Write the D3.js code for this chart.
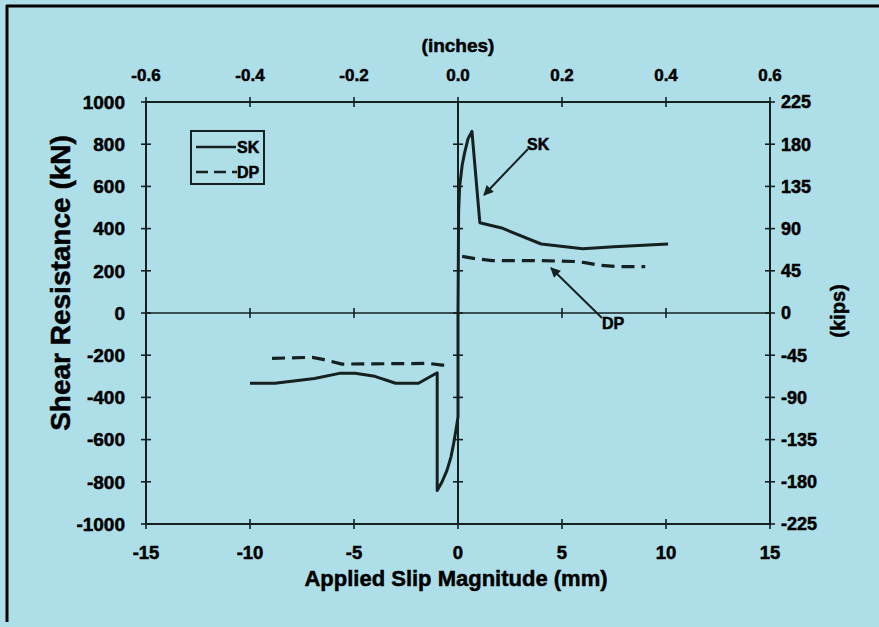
<!DOCTYPE html>
<html><head><meta charset="utf-8">
<script src="https://cdn.jsdelivr.net/npm/d3@7/dist/d3.min.js"></script>
<style>html,body{margin:0;padding:0;background:#aedfe9;}svg{display:block;}</style>
</head><body>
<script>
// ---- data ----
const xTicksMm = [-15,-10,-5,0,5,10,15];
const xTicksIn = [-0.6,-0.4,-0.2,0.0,0.2,0.4,0.6];
const yTicksKn = [-1000,-800,-600,-400,-200,0,200,400,600,800,1000];
const yTicksKips = [-225,-180,-135,-90,-45,0,45,90,135,180,225];
const skX = [-10.0,-8.8,-6.9,-5.7,-4.95,-4.0,-3.0,-1.9,-1.0,-1.0,-0.77,-0.53,-0.34,-0.21,-0.1,0.0,0.0,0.03,0.08,0.2,0.32,0.48,0.67,1.05,2.1,4.0,6.0,7.5,10.1];
const skY = [-333,-333,-310,-286,-286,-300,-333,-333,-283,-841,-801,-746,-683,-619,-556,-493,0,480,600,700,760,825,861,428,403,327,304,314,327];
const dpPosX = [0.2,0.82,1.63,4.0,5.6,6.1,6.8,7.7,9.0];
const dpPosY = [268,258,248,248,244,239,226,220,220];
const dpNegX = [-8.94,-7.0,-6.5,-5.58,-1.41,-0.77,-0.5];
const dpNegY = [-215,-210,-220,-242,-239,-247,-247];

const W=879,H=627;
const svg=d3.select("body").append("svg").attr("width",W).attr("height",H);
const ink="#15201f";
svg.append("rect").attr("width",W).attr("height",H).attr("fill","#aedfe9");
// scan border
svg.append("line").attr("x1",7).attr("x2",7).attr("y1",5).attr("y2",622).attr("stroke","#000").attr("stroke-width",3);
svg.append("line").attr("x1",6).attr("x2",W).attr("y1",6).attr("y2",6).attr("stroke","#000").attr("stroke-width",3);

const L=146,R=770,T=102,B=524;
const x=d3.scaleLinear().domain([-15,15]).range([L,R]);
const xi=d3.scaleLinear().domain([-0.6,0.6]).range([L,R]);
const y=d3.scaleLinear().domain([-1000,1000]).range([B,T]);
const yk=d3.scaleLinear().domain([-225,225]).range([B,T]);

const g=svg.append("g");
const lw=2;
// frame
g.append("rect").attr("x",L).attr("y",T).attr("width",R-L).attr("height",B-T).attr("fill","none").attr("stroke",ink).attr("stroke-width",lw);
// zero lines
g.append("line").attr("x1",x(0)).attr("x2",x(0)).attr("y1",T).attr("y2",B).attr("stroke",ink).attr("stroke-width",lw);
g.append("line").attr("x1",L).attr("x2",R).attr("y1",y(0)).attr("y2",y(0)).attr("stroke",ink).attr("stroke-width",1.6);

const tk=5;
function hticks(vals,sc,xx){g.selectAll(null).data(vals).enter().append("line")
  .attr("x1",xx-tk).attr("x2",xx+tk).attr("y1",d=>sc(d)).attr("y2",d=>sc(d)).attr("stroke",ink).attr("stroke-width",1.6);}
function vticks(vals,sc,yy){g.selectAll(null).data(vals).enter().append("line")
  .attr("y1",yy-tk).attr("y2",yy+tk).attr("x1",d=>sc(d)).attr("x2",d=>sc(d)).attr("stroke",ink).attr("stroke-width",1.6);}
hticks(yTicksKn,y,L); hticks(yTicksKips,yk,R); hticks(yTicksKn,y,x(0));
vticks(xTicksMm,x,B); vticks(xTicksIn,xi,T); vticks(xTicksMm,x,y(0));

const font="'Liberation Sans', Arial, sans-serif";
const tl=svg.append("g").attr("font-family",font).attr("font-weight","bold").attr("fill","#000")
  .attr("stroke","#000").attr("stroke-width",0.5);
tl.selectAll(null).data(yTicksKn).enter().append("text").attr("x",125).attr("y",d=>y(d)).attr("dy","0.36em")
  .attr("text-anchor","end").attr("font-size",19).text(d=>d);
tl.selectAll(null).data(yTicksKips).enter().append("text").attr("x",781).attr("y",d=>yk(d)).attr("dy","0.36em")
  .attr("text-anchor","start").attr("font-size",18).text(d=>d);
tl.selectAll(null).data(xTicksMm).enter().append("text").attr("x",d=>x(d)).attr("y",559)
  .attr("text-anchor","middle").attr("font-size",18.5).text(d=>d);
tl.selectAll(null).data(xTicksIn).enter().append("text").attr("x",d=>xi(d)).attr("y",81)
  .attr("text-anchor","middle").attr("font-size",17).text(d=>d.toFixed(1));
tl.append("text").attr("x",456).attr("y",586).attr("text-anchor","middle").attr("font-size",22).text("Applied Slip Magnitude  (mm)");
tl.append("text").attr("x",458).attr("y",52).attr("text-anchor","middle").attr("font-size",19).text("(inches)");
tl.append("text").attr("transform","translate(70,283) rotate(-90)").attr("text-anchor","middle").attr("font-size",28).text("Shear Resistance  (kN)");
tl.append("text").attr("transform","translate(845,311) rotate(-90)").attr("text-anchor","middle").attr("font-size",20).text("(kips)");

// series
const line=d3.line().x(d=>x(d[0])).y(d=>y(d[1]));
const sk=skX.map((v,i)=>[v,skY[i]]);
const dpP=dpPosX.map((v,i)=>[v,dpPosY[i]]);
const dpN=dpNegX.map((v,i)=>[v,dpNegY[i]]);
g.append("path").attr("d",line(sk)).attr("fill","none").attr("stroke",ink).attr("stroke-width",3).attr("stroke-linejoin","round");
[dpP,dpN].forEach(s=>g.append("path").attr("d",line(s)).attr("fill","none").attr("stroke",ink).attr("stroke-width",3.2).attr("stroke-dasharray","13,7"));

// legend
g.append("rect").attr("x",191).attr("y",131).attr("width",73).attr("height",53).attr("fill","none").attr("stroke",ink).attr("stroke-width",2);
g.append("line").attr("x1",196).attr("x2",236).attr("y1",147).attr("y2",147).attr("stroke",ink).attr("stroke-width",2.5);
g.append("line").attr("x1",196).attr("x2",237).attr("y1",172).attr("y2",172).attr("stroke",ink).attr("stroke-width",2.5).attr("stroke-dasharray","12,6");
tl.append("text").attr("x",237).attr("y",147).attr("dy","0.36em").attr("font-size",16).text("SK");
tl.append("text").attr("x",237).attr("y",172).attr("dy","0.36em").attr("font-size",16).text("DP");

// annotations
const defs=svg.append("defs");
defs.append("marker").attr("id","ah").attr("viewBox","0 0 10 10").attr("refX",9).attr("refY",5)
 .attr("markerWidth",14).attr("markerHeight",10).attr("markerUnits","userSpaceOnUse").attr("orient","auto")
 .append("path").attr("d","M0,0 L10,5 L0,10 z").attr("fill",ink);
g.append("line").attr("x1",528).attr("y1",149).attr("x2",484).attr("y2",195).attr("stroke",ink).attr("stroke-width",2).attr("marker-end","url(#ah)");
g.append("line").attr("x1",602).attr("y1",318).attr("x2",551).attr("y2",268).attr("stroke",ink).attr("stroke-width",2).attr("marker-end","url(#ah)");
tl.append("text").attr("x",527).attr("y",144).attr("dy","0.36em").attr("font-size",16).text("SK");
tl.append("text").attr("x",602).attr("y",323).attr("dy","0.36em").attr("font-size",16).text("DP");
</script>
</body></html>
